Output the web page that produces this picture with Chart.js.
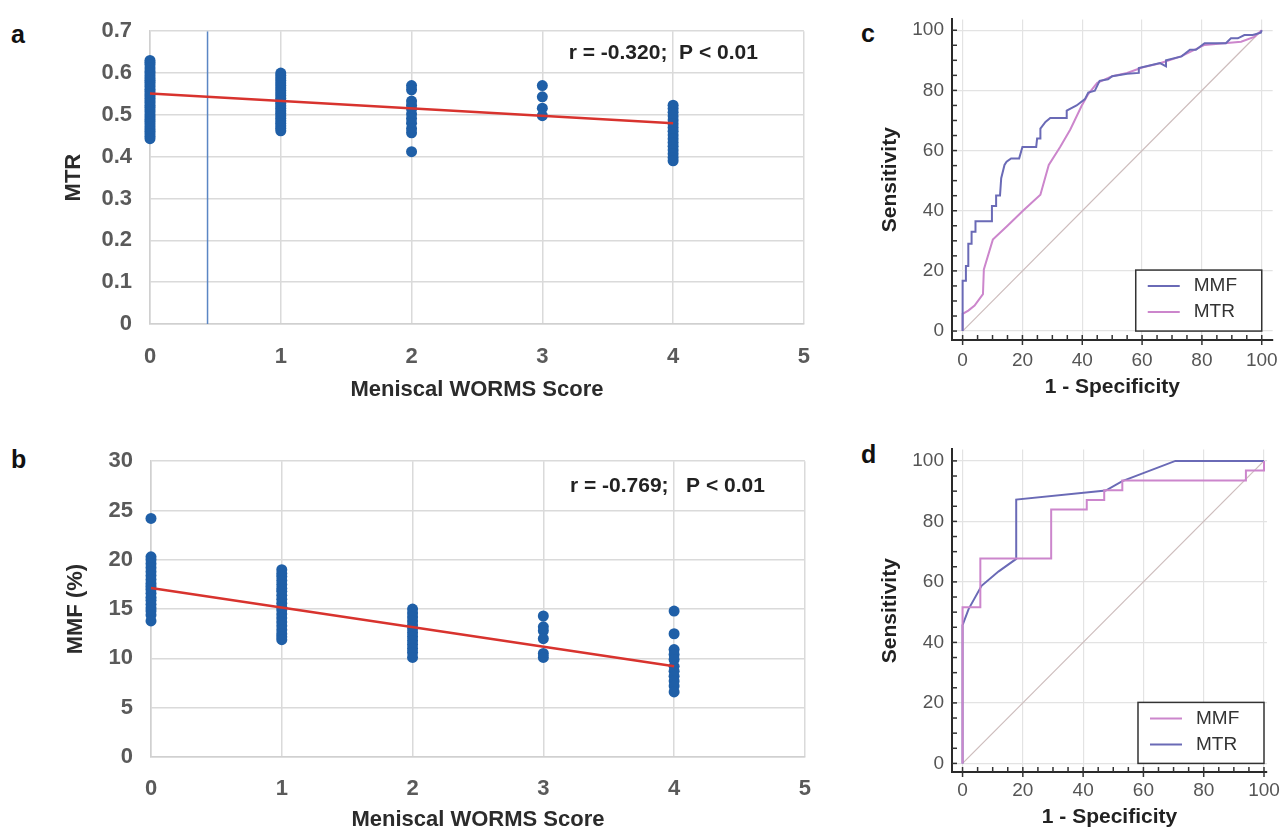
<!DOCTYPE html>
<html>
<head>
<meta charset="utf-8">
<script src="https://cdn.jsdelivr.net/npm/chart.js@4.4.1/dist/chart.umd.min.js"></script>
<style>
	body { margin: 0; background: #fff; width: 1287px; height: 834px; position: relative; overflow: hidden; font-family: "Liberation Sans", Arial, sans-serif; }
	canvas { position: absolute; }
	.tag { position: absolute; font-weight: bold; font-size: 25px; color: #111; }
</style>
</head>
<body>
<div class="tag" style="left:11px;top:20px">a</div>
<div class="tag" style="left:11px;top:445px">b</div>
<div class="tag" style="left:861px;top:19px">c</div>
<div class="tag" style="left:861px;top:440px">d</div>
<canvas id="chartA" width="830" height="410" style="left:0;top:0"></canvas>
<canvas id="chartB" width="830" height="404" style="left:0;top:430px"></canvas>
<canvas id="chartC" width="447" height="410" style="left:840px;top:0"></canvas>
<canvas id="chartD" width="447" height="404" style="left:840px;top:430px"></canvas>
<script>
// ---- panel a: MTR vs meniscal WORMS score ----
const mtrScore0 = [0.63, 0.625, 0.62, 0.612, 0.605, 0.60, 0.594, 0.588, 0.583, 0.578, 0.572, 0.567, 0.561, 0.556, 0.55, 0.545, 0.54, 0.534, 0.529, 0.523, 0.518, 0.512, 0.507, 0.50, 0.495, 0.489, 0.484, 0.478, 0.472, 0.466, 0.461, 0.455, 0.449, 0.443]
const mtrScore1 = [0.60, 0.594, 0.588, 0.582, 0.576, 0.57, 0.564, 0.558, 0.552, 0.546, 0.54, 0.534, 0.528, 0.522, 0.516, 0.51, 0.504, 0.498, 0.492, 0.486, 0.48, 0.474, 0.468, 0.462]
const mtrScore2 = [0.57, 0.56, 0.533, 0.523, 0.514, 0.502, 0.491, 0.48, 0.467, 0.457, 0.412]
const mtrScore3 = [0.57, 0.543, 0.516, 0.498]
const mtrScore4 = [0.523, 0.515, 0.506, 0.497, 0.488, 0.479, 0.47, 0.461, 0.452, 0.443, 0.434, 0.425, 0.416, 0.407, 0.398, 0.39]
const mtrFit = [0.551, 0.480]
const mtrStat = 'r = -0.320;  P < 0.01'
const mtrMarkerX = 0.44

// ---- panel b: MMF (%) vs meniscal WORMS score ----
const mmfScore0 = [24.2, 20.3, 20.0, 19.6, 19.2, 18.8, 18.4, 18.0, 17.6, 17.3, 17.0, 16.6, 16.2, 15.9, 15.5, 15.1, 14.8, 14.4, 13.8]
const mmfScore1 = [19.0, 18.6, 18.3, 17.9, 17.5, 17.1, 16.8, 16.4, 16.0, 15.6, 15.2, 14.9, 14.5, 14.1, 13.7, 13.3, 12.9, 12.5, 12.2, 11.9]
const mmfScore2 = [15.0, 14.6, 14.2, 13.8, 13.4, 13.0, 12.6, 12.2, 11.8, 11.4, 11.0, 10.6, 10.1]
const mmfScore3 = [14.3, 13.2, 12.8, 12.0, 10.5, 10.1]
const mmfScore4 = [14.8, 12.5, 10.9, 10.4, 9.9, 9.2, 8.7, 8.2, 7.7, 7.2, 6.6]
const mmfFit = [17.15, 9.2]
const mmfStat = 'r = -0.769;   P < 0.01'

const fitScores = [0, 4]

// ---- panel c: ROC ----
const cMmfFpr = [0, 0, 1.1, 1.1, 1.9, 1.9, 3, 3, 4.3, 4.3, 9.8, 9.8, 11.2, 11.2, 12.5, 12.9, 14, 14.7, 16.2, 18.9, 20, 24.6, 24.9, 26, 26, 27.7, 29.3, 34.8, 34.8, 38.1, 40.9, 42, 44.2, 45.8, 48.6, 50, 55, 58.9, 58.9, 66, 68, 68, 73.2, 76, 78, 80.9, 88, 89.7, 92, 94.2, 97, 99.7, 100]
const cMmfTpr = [0, 16.7, 16.7, 21.6, 21.6, 29, 29, 33, 33, 36.5, 36.5, 41.6, 41.6, 45.1, 45.1, 50.8, 55.2, 56.3, 57.4, 57.4, 61.2, 61.2, 64, 64, 67.3, 69.5, 70.8, 70.8, 73.3, 75, 77.1, 79.3, 79.9, 83.2, 83.7, 84.7, 85.5, 85.8, 87.4, 89.1, 88, 90, 91.3, 93.5, 93.5, 95.7, 95.7, 97.3, 97.3, 98.4, 98.4, 99.2, 100]
const cMtrFpr = [0, 0, 1.9, 4, 6.8, 7.1, 10.1, 15, 20, 26, 28.8, 32.6, 36, 39.8, 42, 45, 50, 55, 60, 66, 73, 80.9, 93.1, 97.5, 100]
const cMtrTpr = [0, 5.7, 6.8, 8.5, 12.3, 20.5, 30.4, 35, 39.8, 45.3, 55.2, 61.2, 67, 74.9, 78.8, 82.5, 84.7, 85.8, 87.6, 89, 91.3, 95.1, 96.2, 97.8, 100]

// ---- panel d: ROC ----
const dMmfFpr = [0, 0, 5.9, 5.9, 29.4, 29.4, 41.2, 41.2, 47, 47, 53, 53, 94, 94, 100, 100]
const dMmfTpr = [0, 51.6, 51.6, 67.7, 67.7, 83.9, 83.9, 87.1, 87.1, 90.3, 90.3, 93.5, 93.5, 96.8, 96.8, 100]
const dMtrFpr = [0, 0, 2, 6.3, 12, 17.8, 17.8, 47.5, 53, 70.6, 100]
const dMtrTpr = [0, 45.7, 51, 58.7, 63.5, 67.6, 87.2, 90.2, 93.3, 100, 100]

const chanceLine = [0, 100]
const rocTicks = [0, 5, 10, 15, 20, 25, 30, 35, 40, 45, 50, 55, 60, 65, 70, 75, 80, 85, 90, 95, 100]

const FONT = '"Liberation Sans", Arial, sans-serif'
const DOT = '#1f5fa7'
const FIT = '#d8332e'
const ROC_BLUE = '#6a6ab6'
const ROC_PINK = '#cc86cc'

Chart.defaults.font.family = FONT
Chart.defaults.animation = false

const column = (score, values) => values.map(v => ({ x: score, y: v }))
const pairs = (xs, ys) => xs.map((x, i) => ({ x: x, y: ys[i] }))

const statLabel = {
	id: 'statLabel',
	afterDraw(chart, args, opts) {
		if (!opts.text) return
		const { ctx, chartArea } = chart
		ctx.save()
		ctx.font = 'bold 21px ' + FONT
		ctx.fillStyle = '#222'
		ctx.textAlign = 'right'
		ctx.textBaseline = 'middle'
		ctx.fillText(opts.text, chartArea.right - opts.dx, chartArea.top + opts.dy)
		ctx.restore()
	},
}

// ticks on the inside of the ROC axes
const innerTicks = {
	id: 'innerTicks',
	afterDraw(chart, args, opts) {
		if (!opts.on) return
		const { ctx, chartArea: a, scales } = chart
		ctx.save()
		ctx.strokeStyle = '#333'
		ctx.lineWidth = 1.5
		scales.x.ticks.forEach(t => {
			const px = scales.x.getPixelForValue(t.value)
			ctx.beginPath()
			ctx.moveTo(px, a.bottom + (t.value % 20 === 0 ? 5 : 0))
			ctx.lineTo(px, a.bottom - 5)
			ctx.stroke()
		})
		scales.y.ticks.forEach(t => {
			const py = scales.y.getPixelForValue(t.value)
			ctx.beginPath()
			ctx.moveTo(a.left, py)
			ctx.lineTo(a.left + 5, py)
			ctx.stroke()
		})
		ctx.restore()
	},
}

const boxLegend = {
	id: 'boxLegend',
	afterDraw(chart, args, opts) {
		if (!opts.on) return
		const { ctx, scales } = chart
		const right = scales.x.getPixelForValue(100)
		const bottom = scales.y.getPixelForValue(0)
		const left = right - 126
		const top = bottom - 61
		ctx.save()
		ctx.fillStyle = '#fff'
		ctx.fillRect(left, top, 126, 61)
		ctx.strokeStyle = '#333'
		ctx.lineWidth = 1.5
		ctx.strokeRect(left, top, 126, 61)
		ctx.font = '19px ' + FONT
		ctx.textBaseline = 'middle'
		const items = chart.data.datasets.filter(ds => ds.label)
		items.forEach((ds, i) => {
			const y = top + 16 + i * 26
			ctx.strokeStyle = ds.borderColor
			ctx.lineWidth = 2
			ctx.beginPath()
			ctx.moveTo(left + 12, y)
			ctx.lineTo(left + 44, y)
			ctx.stroke()
			ctx.fillStyle = '#333'
			ctx.fillText(ds.label, left + 58, y)
		})
		ctx.restore()
	},
}

function scatterPanel(id, cols, fit, yMax, yStep, yTitle, stat, box, extra) {
	const datasets = [
		{
			data: pairs(fitScores, fit),
			showLine: true,
			borderColor: FIT,
			borderWidth: 2.5,
			pointRadius: 0,
			order: 0,
			clip: false,
		},
	]
	if (extra) datasets.push(extra)
	cols.forEach((vals, score) => {
		datasets.push({
			data: column(score, vals),
			backgroundColor: DOT,
			borderColor: DOT,
			borderWidth: 0,
			pointRadius: 5.5,
			order: 1,
			clip: false,
		})
	})
	return new Chart(document.getElementById(id), {
		type: 'scatter',
		data: { datasets: datasets },
		options: {
			responsive: false,
			layout: { padding: box.pad },
			plugins: {
				legend: { display: false },
				tooltip: { enabled: false },
				statLabel: stat,
			},
			scales: {
				x: {
					min: 0,
					max: 5,
					ticks: { stepSize: 1, padding: box.xTickPad, color: '#5a5a5a', font: { size: 22, weight: 'bold' }, maxRotation: 0 },
					grid: { color: '#dadada', lineWidth: 1.5, drawTicks: false },
					border: { color: '#d0d0d0', width: 1.5 },
					title: { display: true, text: 'Meniscal WORMS Score', color: '#2b2b2b', font: { size: 22, weight: 'bold' }, padding: { top: 0, bottom: box.xTitlePad } },
					afterFit: s => { s.height = box.xHeight },
				},
				y: {
					min: 0,
					max: yMax,
					ticks: { stepSize: yStep, padding: 18, color: '#5a5a5a', font: { size: 22, weight: 'bold' } },
					grid: { color: '#dadada', lineWidth: 1.5, drawTicks: false },
					border: { color: '#d0d0d0', width: 1.5 },
					title: { display: true, text: yTitle, color: '#2b2b2b', font: { size: 22, weight: 'bold' }, padding: { top: box.yTitlePad, bottom: 0 } },
					afterFit: s => { s.width = box.yWidth },
				},
			},
		},
		plugins: [statLabel],
	})
}

function rocPanel(id, curves, box) {
	const datasets = curves.map(c => ({
		label: c.label,
		data: pairs(c.fpr, c.tpr),
		showLine: true,
		borderColor: c.color,
		borderWidth: 2,
		pointRadius: 0,
		tension: 0,
	}))
	datasets.push({
		data: pairs(chanceLine, chanceLine),
		showLine: true,
		borderColor: '#cdbcbc',
		borderWidth: 1.2,
		pointRadius: 0,
	})
	const rocScale = (lim, tickPad, title, titlePad, fit) => ({
		min: lim[0],
		max: lim[1],
		afterBuildTicks: s => { s.ticks = rocTicks.map(v => ({ value: v })) },
		ticks: {
			autoSkip: false,
			maxRotation: 0,
			padding: tickPad,
			color: '#555',
			font: { size: 19 },
			callback: v => (v % 20 === 0 ? v : ''),
		},
		grid: { color: c => (c.tick && c.tick.value % 20 === 0 ? '#e3e3e3' : 'rgba(0,0,0,0)'), lineWidth: 1.2, drawTicks: false },
		border: { display: true, color: '#2a2a2a', width: 2 },
		title: { display: true, text: title, color: '#222', font: { size: 21, weight: 'bold' }, padding: titlePad },
		afterFit: fit,
	})
	return new Chart(document.getElementById(id), {
		type: 'scatter',
		data: { datasets: datasets },
		options: {
			responsive: false,
			layout: { padding: box.pad },
			plugins: {
				legend: { display: false },
				tooltip: { enabled: false },
				innerTicks: { on: true },
				boxLegend: { on: true },
			},
			scales: {
				x: rocScale(box.xLim, box.xTickPad, '1 - Specificity', { top: 0, bottom: box.xTitlePad }, s => { s.height = box.xHeight }),
				y: rocScale(box.yLim, 8, 'Sensitivity', { top: 38, bottom: 0 }, s => { s.width = 112 }),
			},
		},
		plugins: [innerTicks, boxLegend],
	})
}

scatterPanel(
	'chartA',
	[mtrScore0, mtrScore1, mtrScore2, mtrScore3, mtrScore4],
	mtrFit, 0.7, 0.1, 'MTR',
	{ text: mtrStat, dx: 46, dy: 22 },
	{ pad: { top: 23, right: 25, left: 0, bottom: 0 }, xHeight: 86, yWidth: 150, xTickPad: 20, xTitlePad: 7, yTitlePad: 61 },
	{
		data: pairs([mtrMarkerX, mtrMarkerX], [0, 0.7]),
		showLine: true,
		borderColor: '#5a86c4',
		borderWidth: 1.5,
		pointRadius: 0,
		order: 2,
	}
)

scatterPanel(
	'chartB',
	[mmfScore0, mmfScore1, mmfScore2, mmfScore3, mmfScore4],
	mmfFit, 30, 5, 'MMF (%)',
	{ text: mmfStat, dx: 40, dy: 25 },
	{ pad: { top: 28, right: 23, left: 0, bottom: 0 }, xHeight: 77, yWidth: 151, xTickPad: 19, xTitlePad: 1, yTitlePad: 63 }
)

rocPanel(
	'chartC',
	[
		{ label: 'MMF', fpr: cMmfFpr, tpr: cMmfTpr, color: ROC_BLUE },
		{ label: 'MTR', fpr: cMtrFpr, tpr: cMtrTpr, color: ROC_PINK },
	],
	{ pad: { top: 17, right: 12, left: 0, bottom: 0 }, xLim: [-3.55, 103.65], yLim: [-2.97, 103.6], xHeight: 70, xTickPad: 9, xTitlePad: 10 }
)

rocPanel(
	'chartD',
	[
		{ label: 'MMF', fpr: dMmfFpr, tpr: dMmfTpr, color: ROC_PINK },
		{ label: 'MTR', fpr: dMtrFpr, tpr: dMtrTpr, color: ROC_BLUE },
	],
	{ pad: { top: 15, right: 16, left: 0, bottom: 0 }, xLim: [-3.5, 101], yLim: [-2.84, 103.8], xHeight: 62, xTickPad: 7, xTitlePad: 4 }
)
</script>
</body>
</html>
